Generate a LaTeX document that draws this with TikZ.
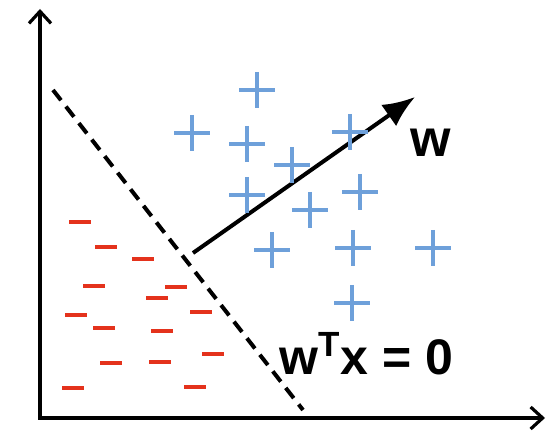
\documentclass[tikz,border=0pt]{standalone}
\usepackage{fontspec}
\setmainfont{Liberation Sans}
\usetikzlibrary{arrows.meta}
\definecolor{posblue}{RGB}{110,160,218}
\definecolor{negred}{RGB}{228,50,28}

\begin{document}
\begin{tikzpicture}[
    x=0.5pt, y=-0.5pt,
    axis/.style={line width=2pt, {Straight Barb[length=6pt, width=11pt, line width=1.6pt]}-{Straight Barb[length=6pt, width=11pt, line width=1.6pt]}},
    boundary/.style={line width=2pt, dash pattern=on 6.5pt off 4pt},
    weight/.style={line width=2pt, -{Latex[length=16pt, width=13pt]}},
    lbl/.style={font=\fontsize{25}{29}\selectfont\bfseries, inner sep=0pt},
    possample/.style={posblue, line width=1.6pt},
    negsample/.style={negred, line width=2pt}
]
    \useasboundingbox (0,0) rectangle (547,432);

    % Axes
    \coordinate (origin) at (40,418);
    \coordinate (ytop) at (40,9);
    \coordinate (xend) at (545,418);
    \draw[axis] (ytop) -- (origin) -- (xend);

    % Decision boundary
    \coordinate (bstart) at (53,90);
    \coordinate (bend) at (303,410);
    \draw[boundary] (bstart) -- (bend);

    % Weight vector
    \coordinate (wbase) at (193,253);
    \coordinate (wtip) at (415,97);
    \draw[weight] (wbase) -- (wtip);

    % Positive samples
    \foreach \px/\py in {257/90, 192/133, 247/144, 350/132, 292/165, 247/195,
                         360/192, 310/210, 272/250, 353/248, 433/248, 352/303}
        \draw[possample] ({\px-18},\py) -- ({\px+18},\py) (\px,{\py-18}) -- (\px,{\py+18});

    % Negative samples
    \foreach \mx/\my in {80/222, 106/247, 143/259, 94/286, 176/287, 157/298,
                         76/315, 201/312, 104/328, 162/331, 213/354, 111/363,
                         160/362, 73/388, 195/387}
        \draw[negsample] ({\mx-11},\my) -- ({\mx+11},\my);

    % Labels
    \node[lbl, font=\fontsize{26}{30}\selectfont\bfseries] (wlabel) at (431,143) {w};
    \node[lbl, anchor=base west] (hyperplane) at (279,375) {w\textsuperscript{T}x = 0};
\end{tikzpicture}
\end{document}
